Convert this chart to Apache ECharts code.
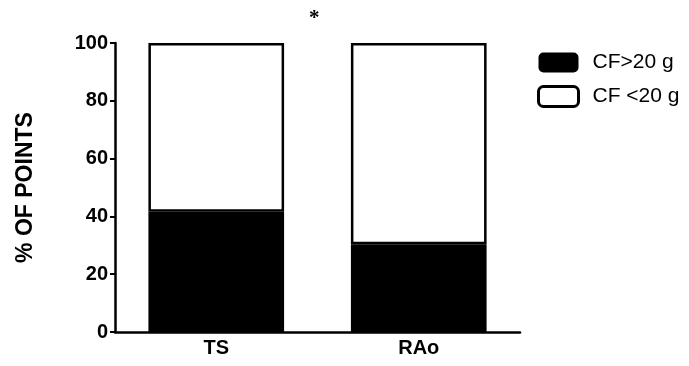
<!DOCTYPE html>
<html><head><meta charset="utf-8">
<script src="https://cdn.jsdelivr.net/npm/echarts@6/dist/echarts.min.js"></script>
<style>html,body{margin:0;padding:0;background:#fff}#c{width:689px;height:366px}</style>
</head><body><div id="c"></div>
<script>
const categories = ['TS', 'RAo'];
const above20 = [41.6, 30.4];
const below20 = [58.4, 69.6];
const seriesNames = ['CF>20 g', 'CF <20 g'];
const yTicks = [0, 20, 40, 60, 80, 100];

const chart = echarts.init(document.getElementById('c'));
chart.setOption({
  animation: false,
  backgroundColor: '#fff',
  title: { text: '*', left: 304, top: 3, textStyle: { fontFamily: 'Liberation Serif', fontSize: 21, fontWeight: 'bold', color: '#000' } },
  grid: { left: 115, right: 169, top: 43, bottom: 34 },
  legend: {
    left: 532, top: 47, orient: 'vertical', itemWidth: 40, itemHeight: 20, itemGap: 12,
    icon: 'roundRect',
    textStyle: { fontFamily: 'Liberation Sans', fontSize: 21, lineHeight: 20, color: '#000', padding: [0,0,0,9] },
    data: [
      { name: seriesNames[0], itemStyle: { color: '#000', borderColor: '#000', borderWidth: 0 } },
      { name: seriesNames[1], itemStyle: { color: '#fff', borderColor: '#000', borderWidth: 3 } }
    ]
  },
  xAxis: {
    type: 'category', data: categories,
    axisLine: { lineStyle: { color: '#000', width: 2.5 } },
    axisTick: { show: false },
    axisLabel: { fontFamily: 'Liberation Sans', fontWeight: 'bold', fontSize: 20, color: '#000', margin: 6 }
  },
  yAxis: {
    type: 'value', min: 0, max: 100, interval: 20,
    name: '% OF POINTS', nameLocation: 'middle', nameGap: 78, nameRotate: 90,
    nameTextStyle: { fontFamily: 'Liberation Sans', fontWeight: 'bold', fontSize: 23, color: '#000' },
    axisLine: { show: true, lineStyle: { color: '#000', width: 2.5 } },
    axisTick: { show: true, length: 5, lineStyle: { color: '#000', width: 2 } },
    splitLine: { show: false },
    axisLabel: { fontFamily: 'Liberation Sans', fontWeight: 'bold', fontSize: 20, color: '#000', margin: 7,
      formatter: v => yTicks.includes(v) ? String(v) : '' }
  },
  series: [
    { name: seriesNames[0], type: 'bar', stack: 's', data: above20, barWidth: '67%',
      itemStyle: { color: '#000', borderColor: '#000', borderWidth: 2.5 } },
    { name: seriesNames[1], type: 'bar', stack: 's', data: below20, barWidth: '67%',
      itemStyle: { color: '#fff', borderColor: '#000', borderWidth: 2.5 } }
  ]
});
</script></body></html>
